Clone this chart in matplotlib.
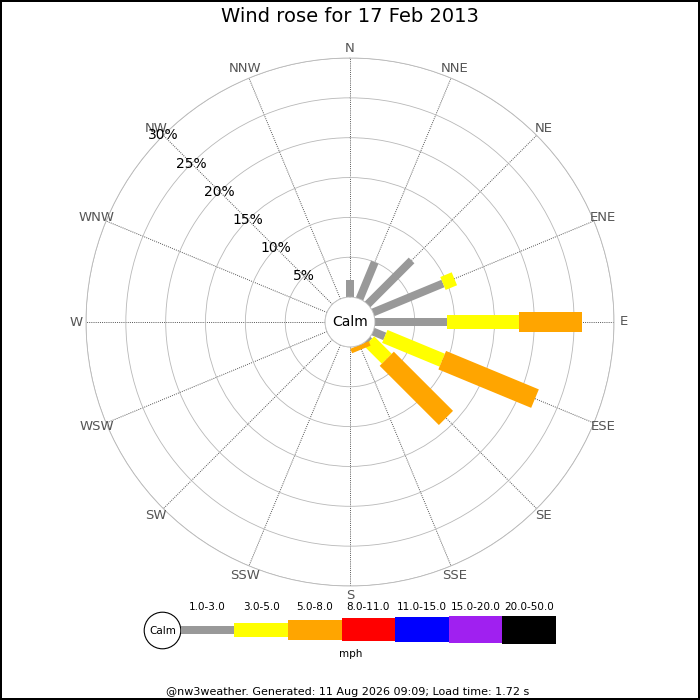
import numpy as np
import matplotlib
matplotlib.use('Agg')
import matplotlib.pyplot as plt
from matplotlib.patches import Circle

# wind rose data, % of day per direction and speed band
directions = ['N', 'NNE', 'NE', 'ENE', 'E', 'ESE', 'SE', 'SSE',
              'S', 'SSW', 'SW', 'WSW', 'W', 'WNW', 'NW', 'NNW']
bands = ['1.0-3.0', '3.0-5.0', '5.0-8.0', '8.0-11.0', '11.0-15.0', '15.0-20.0', '20.0-50.0']
band_colors = ['#999999', '#ffff00', '#ffa500', '#ff0000', '#0000ff', '#a020f0', '#000000']

pct_1_3 = [2.2, 5.0, 7.8, 9.5, 9.1, 1.6, 0.3, 0, 0, 0, 0, 0, 0, 0, 0, 0]
pct_3_5 = [0, 0, 0, 1.55, 9.0, 7.8, 3.1, 0, 0, 0, 0, 0, 0, 0, 0, 0]
pct_5_8 = [0, 0, 0, 0, 7.9, 12.6, 10.5, 0.6, 0, 0, 0, 0, 0, 0, 0, 0]
pct_8_11 = [0] * 16
pct_11_15 = [0] * 16
pct_15_20 = [0] * 16
pct_20_50 = [0] * 16

ring_ticks = [5, 10, 15, 20, 25, 30]
title = 'Wind rose for 17 Feb 2013'
footer = '@nw3weather. Generated: 11 Aug 2026 09:09; Load time: 1.72 s'

# band thickness in pixels (rose and legend)
band_px = [8, 14, 20, 23, 25, 27, 28]

W = 700
fig = plt.figure(figsize=(7, 7), dpi=100)
fig.patch.set_edgecolor('black')
fig.patch.set_linewidth(1.5)

# overlay axes in pixel units for title, legend, footer
ov = fig.add_axes([0, 0, 1, 1])
ov.set_xlim(0, W)
ov.set_ylim(W, 0)
ov.axis('off')
ov.patch.set_alpha(0)

cx, cy, R = 350, 322, 264
calm_r = 3.125  # calm circle radius in % units (25px)

ax = fig.add_axes([(cx - R) / W, (W - cy - R) / W, 2 * R / W, 2 * R / W], projection='polar')
ax.set_theta_zero_location('N')
ax.set_theta_direction(-1)
ax.set_ylim(0, 30)
ax.set_rorigin(-calm_r)
angles = np.deg2rad(np.arange(16) * 22.5)
ax.set_xticks(angles)
ax.set_xticklabels([])
ax.set_yticks(ring_ticks)
ax.set_yticklabels([])
ax.yaxis.grid(True, color='#b8b8b8', lw=0.6, ls='-')
ax.xaxis.grid(True, color='#555555', lw=0.7, ls=(0, (1, 1.2)))
for s in ax.spines.values():
    s.set_color('#b8b8b8')
    s.set_linewidth(0.6)
if 'inner' in ax.spines:
    ax.spines['inner'].set_visible(False)
ax.tick_params(length=0)

# direction labels
for a, d in zip(angles, directions):
    ax.text(a, 275 / 8 - calm_r, d, ha='center', va='center', fontsize=9.5,
            color='#555555', clip_on=False)

# stacked bars as thick radial lines
series = np.array([pct_1_3, pct_3_5, pct_5_8, pct_8_11, pct_11_15, pct_15_20, pct_20_50])
tops = np.cumsum(series, axis=0)
for k in range(len(bands)):
    for i, a in enumerate(angles):
        if series[k, i] <= 0:
            continue
        ax.plot([a, a], [tops[k, i] - series[k, i], tops[k, i]], color=band_colors[k],
                lw=band_px[k] * 0.72, solid_capstyle='butt', zorder=3)

# calm circle
t = np.linspace(0, 2 * np.pi, 200)
ax.fill(t, np.zeros_like(t), facecolor='white', edgecolor='#b8b8b8', lw=0.6, zorder=4)
ax.text(0, -calm_r, 'Calm', ha='center', va='center', fontsize=10, zorder=5)

# radial labels along NW
for r in ring_ticks:
    ax.text(np.deg2rad(315), r, f'{r}%', ha='center', va='center', fontsize=10, zorder=5)

# title
ov.text(cx, 17, title, ha='center', va='center', fontsize=14)

# legend
lx0, seg, ly = 180.7, 53.6, 629.5
ov.add_patch(Circle((162.5, 630.5), 18.3, facecolor='white', edgecolor='black', lw=0.8))
ov.text(162.5, 630.5, 'Calm', ha='center', va='center', fontsize=7.5)
for k, (lab, c) in enumerate(zip(bands, band_colors)):
    ov.bar(lx0 + k * seg, band_px[k], width=seg, bottom=ly - band_px[k] / 2,
           align='edge', color=c, edgecolor='none')
    ov.text(lx0 + (k + 0.5) * seg, 607, lab, ha='center', va='center', fontsize=7.5)
ov.text(350.5, 654, 'mph', ha='center', va='center', fontsize=7.5)

# footer
ov.text(348, 692, footer, ha='center', va='center', fontsize=8)

fig.savefig('out.png', dpi=100)
